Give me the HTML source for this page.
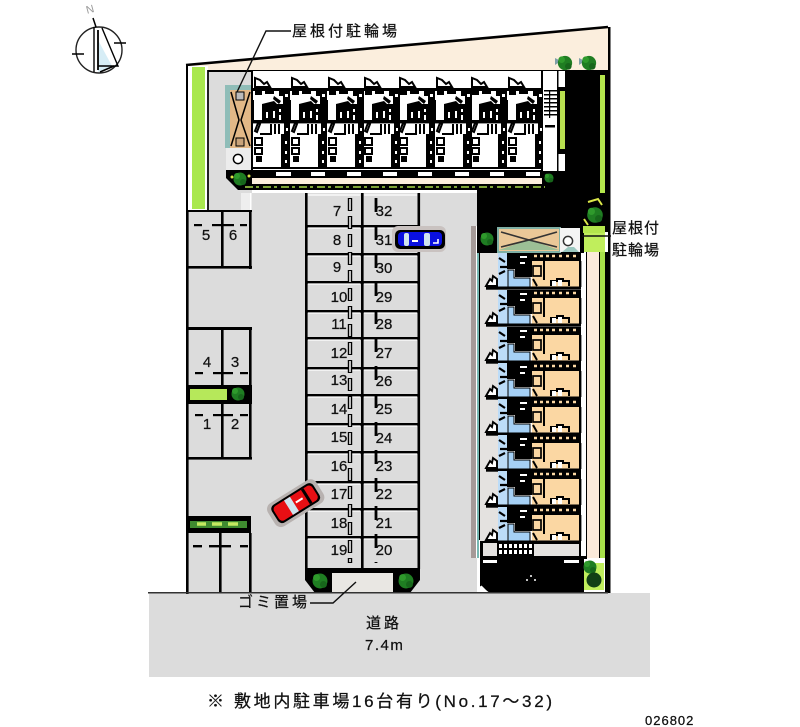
<!DOCTYPE html>
<html lang="ja">
<head>
<meta charset="utf-8">
<title>配置図</title>
<style>
html,body{margin:0;padding:0;background:#fff}
svg{display:block;filter:blur(.35px)}
text{font-family:"Liberation Sans","WenQuanYi Zen Hei","Noto Sans CJK JP",sans-serif;fill:#111;stroke:#111;stroke-width:.25px}
.n{font-size:15px;text-anchor:middle;font-family:"Liberation Sans",sans-serif}
.j{font-size:15px;letter-spacing:3px}
</style>
</head>
<body>
<svg width="800" height="727" viewBox="0 0 800 727" xmlns="http://www.w3.org/2000/svg">
<defs>
  <g id="tree"><circle cx="0" cy="0" r="6.5" fill="#1f7d22"/><circle cx="-3" cy="-3" r="3" fill="#2f9a2c"/><circle cx="3" cy="3" r="3" fill="#17661b"/></g>

  <g id="ut">
    <path d="M255 87V78l5 2 4 4 3-2 3 5z" fill="#fff" stroke="#000" stroke-width="2"/>
    <rect x="253" y="88" width="37" height="3" fill="#000"/>
    <path d="M255 91h7v4h-7zM265 91h9v3h-9zM279 91h10v5h-10z" fill="#000"/>
    <path d="M274 96l7 5-2 3-6-5zM262 104l12-3 3 3h13v18h-28z" fill="#000"/>
    <rect x="283" y="89" width="7" height="20" fill="#000"/>
    <rect x="285" y="94" width="3" height="3" fill="#fff"/>
    <rect x="266" y="112" width="2" height="6" fill="#fff"/><rect x="273" y="111" width="2" height="7" fill="#fff"/>
    <rect x="279" y="109" width="2" height="3" fill="#fff"/><rect x="279" y="115" width="2" height="5" fill="#fff"/>
    <rect x="252" y="100" width="2" height="22" fill="#000"/>
    <rect x="253" y="120" width="37" height="3.4" fill="#000"/>
    <path d="M255 131l3-8 2 1-3 8zM271 124v10h-11M275 124v10M279 124v10" fill="none" stroke="#000" stroke-width="2"/>
    <rect x="255" y="138" width="7" height="7" fill="#fff" stroke="#000" stroke-width="2"/>
    <rect x="255" y="148" width="7" height="6" fill="#fff" stroke="#000" stroke-width="2"/>
    <rect x="256" y="156" width="6" height="6" fill="#000"/>
    <rect x="281" y="134" width="9" height="34" fill="#000"/>
    <rect x="284" y="123" width="6" height="14" fill="#000"/>
    <rect x="286" y="128" width="2" height="3" fill="#fff"/><rect x="285" y="141" width="2" height="3" fill="#fff"/><rect x="285" y="151" width="2" height="3" fill="#fff"/><rect x="285" y="160" width="2" height="3" fill="#fff"/>
    <rect x="253" y="167" width="37" height="2" fill="#000"/>
  </g>

  <g id="ur">
    <rect x="498" y="0" width="10" height="35" fill="#bcdcf8"/>
    <path d="M508 17h6v8h16v9h-22z" fill="#a5d0f5" stroke="#000" stroke-width="1"/>
    <path d="M507 0h25v24h-17v-8h-8z" fill="#000"/>
    <rect x="520" y="3" width="7" height="2" fill="#fff"/><rect x="520" y="9" width="5" height="2" fill="#fff"/>
    <path d="M499 5l6 4M500 14h7M499 21l6-3" stroke="#000" stroke-width="2.2"/>
    <path d="M486 33l4-7 2 2 1-5 4 3v7z" fill="#fff" stroke="#000" stroke-width="1.9"/>
    <path d="M494 33h4" stroke="#000" stroke-width="1.6"/>
    <rect x="532" y="0" width="48" height="35" fill="#fbd7a3"/>
    <rect x="531" y="0" width="50" height="8" fill="#000"/>
    <path d="M534 3h3M540 3h3M546 3h3M552 3h3M559 3h3M566 3h3M573 3h3" stroke="#fbd7a3" stroke-width="2.6"/>
    <rect x="533" y="13" width="8" height="10" fill="#fbd7a3" stroke="#000" stroke-width="1.7"/>
    <rect x="543" y="8" width="2" height="19" fill="#000"/>
    <rect x="579" y="8" width="2.4" height="26" fill="#000"/>
    <path d="M533 26l4 7M551 33v-5h6v-2h6v2h6v5" fill="none" stroke="#000" stroke-width="2"/>
    <rect x="552" y="28" width="4" height="5" fill="#fff"/><rect x="558" y="27" width="4" height="6" fill="#fff"/>
    <rect x="486" y="33.5" width="95" height="3.2" fill="#000"/>
    <rect x="582" y="0" width="4" height="10" fill="#fff"/><rect x="582" y="14" width="4" height="22" fill="#fff"/>
  </g>
</defs>

<rect width="800" height="727" fill="#fff"/>

<!-- compass -->
<text x="86" y="13" font-size="11" style="fill:#999;stroke:none" transform="rotate(-15 90 9)">N</text>
<circle cx="99" cy="50" r="23" fill="#fff" stroke="#222" stroke-width="1.4"/>
<path d="M98 72V40L112 66z" fill="#d6edf6"/>
<path d="M94 27V72M102 28l16 38H98" fill="none" stroke="#000" stroke-width="1.4"/>
<path d="M98 30V70" stroke="#000" stroke-width="1.8"/>
<path d="M93 18l3 9M72 54h12M114 43h12M100 72l14-6" stroke="#000" stroke-width="1.5" fill="none"/>

<!-- site beige -->
<path d="M188 65L608 28V71H188z" fill="#fbeedd"/>
<path d="M186 65L608 27" stroke="#000" stroke-width="2.6" fill="none"/>
<rect x="608" y="27" width="2.5" height="567" fill="#000"/>
<rect x="606" y="500" width="1.5" height="90" fill="#a096b8"/>

<!-- road -->
<rect x="149" y="593" width="501" height="84" fill="#dcdcdc"/>

<!-- ground grey -->
<rect x="188" y="193" width="289" height="400" fill="#dcdcdc"/>
<rect x="209" y="70" width="43" height="141" fill="#dcdcdc"/>
<rect x="241" y="193" width="9" height="18" fill="#eee"/>
<rect x="250" y="193" width="1.5" height="18" fill="#fff"/>
<rect x="186" y="64" width="2.6" height="530" fill="#000"/>

<!-- left green -->
<rect x="188" y="66" width="20" height="144" fill="#fff"/>
<rect x="192" y="67" width="13" height="142" fill="#a9e84e"/>
<rect x="207" y="70" width="2" height="141" fill="#222"/>
<rect x="208" y="70" width="400" height="2" fill="#000"/>

<!-- bike roof top-left -->
<rect x="225" y="85" width="26" height="63" fill="#8fbdb8"/>
<rect x="230" y="90" width="21" height="58" fill="#e2b887"/>
<path d="M231 92l8 28 -8 26M250 92l-9 28 9 26" fill="none" stroke="#000" stroke-width="1.5"/>
<rect x="236" y="92" width="8" height="8" fill="#bbb" stroke="#000"/>
<rect x="236" y="138" width="8" height="8" fill="#c9a37a" stroke="#000"/>
<rect x="226" y="148" width="26" height="22" fill="#ececec"/>
<circle cx="238" cy="159" r="4.6" fill="#fff" stroke="#000" stroke-width="1.5"/>

<!-- top building -->
<rect x="252" y="71" width="290" height="101" fill="#fff"/>
<rect x="251" y="71" width="2" height="100" fill="#000"/>
<rect x="541" y="71" width="2" height="100" fill="#000"/>
<use href="#ut"/><use href="#ut" x="37"/><use href="#ut" x="74"/><use href="#ut" x="110"/><use href="#ut" x="145"/><use href="#ut" x="182"/><use href="#ut" x="217"/><use href="#ut" x="254"/>
<rect x="543" y="71" width="15" height="100" fill="#fff"/>
<rect x="558" y="71" width="7" height="100" fill="#fff"/>
<rect x="557" y="71" width="1.5" height="100" fill="#000"/>
<rect x="558" y="87" width="7" height="67" fill="#000"/>
<rect x="560" y="91" width="7" height="58" fill="#b8e050"/>
<g fill="#000"><rect x="544" y="90" width="14" height="1.5"/><rect x="544" y="94" width="14" height="1.5"/><rect x="544" y="98" width="14" height="1.5"/><rect x="544" y="102" width="14" height="1.5"/><rect x="544" y="106" width="14" height="1.5"/><rect x="544" y="110" width="14" height="1.5"/><rect x="544" y="114" width="14" height="1.5"/><rect x="549" y="90" width="1.2" height="28"/><rect x="545" y="125" width="10" height="2.5"/></g>

<!-- black area -->
<path d="M226 170H543V171H565V71H598V226H584V253H477V190H238L226 178z" fill="#000"/>
<rect x="252" y="178" width="290" height="6" fill="#fdeedd"/>
<g fill="#fff"><rect x="276" y="172" width="15" height="4"/><rect x="311" y="172" width="14" height="4"/><rect x="347" y="172" width="14" height="4"/><rect x="383" y="172" width="14" height="4"/><rect x="418" y="172" width="14" height="4"/><rect x="455" y="172" width="14" height="4"/><rect x="490" y="172" width="14" height="4"/><rect x="526" y="172" width="14" height="4"/></g>
<path d="M245 187H545" stroke="#a9d94a" stroke-width="1.6" stroke-dasharray="8 3 3 4"/>
<use href="#tree" x="240" y="179"/>
<use href="#tree" transform="translate(549 178) scale(.7)"/>
<circle cx="232" cy="177" r="1.5" fill="#dce84a"/><circle cx="249" cy="176" r="1.5" fill="#dce84a"/>

<!-- right side strips -->
<rect x="598" y="71" width="10" height="161" fill="#000"/>
<rect x="600" y="75" width="5" height="118" fill="#b4e64c"/>
<path d="M555 58l6 3-6 4zM579 58l6 3-6 4z" fill="#7f9fa8"/>
<use href="#tree" transform="translate(565 63) scale(1.1)"/><use href="#tree" transform="translate(589 63) scale(1.1)"/>
<use href="#tree" transform="translate(595 215) scale(1.2)"/>
<path d="M588 202l10-3 4 6M588 225l-4-6" fill="none" stroke="#dce84a" stroke-width="2"/>

<!-- right bike -->
<rect x="498" y="228" width="62" height="24" fill="#eac898" stroke="#7fb0a5" stroke-width="2"/>
<path d="M499 250l20-7 10-3 10 3 20 7z" fill="#9cbf96"/>
<path d="M501 232l28 8 28-8M501 247l28-7 28 7" fill="none" stroke="#333" stroke-width="1.6"/>
<rect x="560" y="228" width="20" height="24" fill="#f4f4f4"/>
<path d="M562 252l6-5 6 0 5 5z" fill="#9cc8c0"/>
<circle cx="568" cy="241" r="4.6" fill="#fff" stroke="#333" stroke-width="1.5"/>
<use href="#tree" x="487" y="239"/>
<rect x="584" y="232" width="21" height="20" fill="#c0ee5c"/>
<rect x="583" y="226" width="22" height="7" fill="#b4e64c"/>

<!-- right building -->
<rect x="471" y="226" width="5" height="332" fill="#a59a98"/>
<rect x="476" y="226" width="1" height="332" fill="#fff"/>
<rect x="477" y="253" width="2" height="305" fill="#78b8b2"/>
<rect x="479" y="253" width="1.4" height="287" fill="#000"/>
<rect x="480" y="253" width="18" height="288" fill="#e4e2e0"/>
<rect x="498" y="253" width="83" height="288" fill="#fff"/>
<use href="#ur" y="253"/><use href="#ur" y="290"/><use href="#ur" y="327"/><use href="#ur" y="363"/><use href="#ur" y="399"/><use href="#ur" y="435"/><use href="#ur" y="471"/><use href="#ur" y="507"/>

<rect x="586" y="252" width="1.6" height="306" fill="#000"/>
<rect x="587" y="252" width="12" height="306" fill="#fbeadb"/>
<rect x="599" y="252" width="1.5" height="306" fill="#000"/>
<rect x="600" y="252" width="5" height="306" fill="#a8e04a"/>
<rect x="605" y="252" width="3" height="340" fill="#000"/>

<!-- right bottom -->
<path d="M480 541H581V556H587V559H584V593H490L480 586z" fill="#000"/>
<rect x="483" y="543" width="14" height="13" fill="#e4e2e0"/>
<rect x="534" y="544" width="45" height="12" fill="#e4e2e0"/>
<g fill="#fff"><rect x="499" y="544" width="3" height="4"/><rect x="504" y="544" width="3" height="4"/><rect x="509" y="544" width="3" height="4"/><rect x="514" y="544" width="3" height="4"/><rect x="519" y="544" width="3" height="4"/><rect x="524" y="544" width="3" height="4"/><rect x="529" y="544" width="3" height="4"/><rect x="499" y="550" width="3" height="4"/><rect x="504" y="550" width="3" height="4"/><rect x="509" y="550" width="3" height="4"/><rect x="514" y="550" width="3" height="4"/><rect x="519" y="550" width="3" height="4"/><rect x="524" y="550" width="3" height="4"/><rect x="529" y="550" width="3" height="4"/><rect x="483" y="560" width="14" height="3"/><rect x="564" y="560" width="15" height="3"/><circle cx="531" cy="576" r="1"/><circle cx="527" cy="580" r="1"/><circle cx="535" cy="580" r="1"/></g>
<rect x="584" y="563" width="20" height="27" fill="#c0ee5c"/>
<use href="#tree" x="590" y="567"/>
<circle cx="594" cy="580" r="7.5" fill="#123f16"/>
<path d="M481 586l7 7" stroke="#fff" stroke-width="1.5"/>

<!-- main parking -->
<rect x="306" y="193" width="113" height="376" fill="#dcdcdc"/>
<g fill="#000">
  <rect x="305" y="193" width="2.6" height="376"/><rect x="417.5" y="193" width="2.6" height="376"/><rect x="361" y="193" width="2.6" height="376"/>
  <rect x="305" y="225" width="115" height="2.6"/><rect x="305" y="253" width="115" height="2.6"/><rect x="305" y="281" width="115" height="2.6"/><rect x="305" y="310" width="115" height="2.6"/><rect x="305" y="337" width="115" height="2.6"/><rect x="305" y="367" width="115" height="2.6"/><rect x="305" y="394" width="115" height="2.6"/><rect x="305" y="423" width="115" height="2.6"/><rect x="305" y="451" width="115" height="2.6"/><rect x="305" y="481" width="115" height="2.6"/><rect x="305" y="508" width="115" height="2.6"/><rect x="305" y="536" width="115" height="2.6"/>
</g>
<path d="M308 195H360M364 195H417M308 228H360M364 228H417M308 256H360M364 256H417M308 284H360M364 284H417M308 313H360M364 313H417M308 340H360M364 340H417M308 370H360M364 370H417M308 397H360M364 397H417M308 426H360M364 426H417M308 454H360M364 454H417M308 484H360M364 484H417M308 511H360M364 511H417M308 539H360M364 539H417" stroke="#fff" stroke-width="1.2"/>
<path d="M350 198V563" stroke="#000" stroke-width="4.4" stroke-dasharray="13 5"/>
<path d="M350 199V562" stroke="#fff" stroke-width="1.5" stroke-dasharray="11 7"/>
<path d="M376 198V563" stroke="#000" stroke-width="2.8" stroke-dasharray="14 14"/>

<path d="M305 568H420V580L410 593H315L305 580z" fill="#000"/>
<rect x="332" y="573" width="61" height="20" fill="#e9e7e3"/>
<use href="#tree" transform="translate(320 581) scale(1.15)"/><use href="#tree" transform="translate(406 581) scale(1.15)"/>

<!-- numbers -->
<g>
<text class="n" x="337" y="216">7</text><text class="n" x="337" y="245">8</text><text class="n" x="337" y="272">9</text><text class="n" x="339" y="302">10</text><text class="n" x="339" y="329">11</text><text class="n" x="339" y="358">12</text><text class="n" x="339" y="385">13</text><text class="n" x="339" y="414">14</text><text class="n" x="339" y="442">15</text><text class="n" x="339" y="471">16</text><text class="n" x="339" y="499">17</text><text class="n" x="339" y="528">18</text><text class="n" x="339" y="555">19</text>
<text class="n" x="384" y="216">32</text><text class="n" x="384" y="245">31</text><text class="n" x="384" y="273">30</text><text class="n" x="384" y="302">29</text><text class="n" x="384" y="329">28</text><text class="n" x="384" y="358">27</text><text class="n" x="384" y="386">26</text><text class="n" x="384" y="414">25</text><text class="n" x="384" y="443">24</text><text class="n" x="384" y="471">23</text><text class="n" x="384" y="499">22</text><text class="n" x="384" y="528">21</text><text class="n" x="384" y="555">20</text>
</g>

<!-- left slots -->
<g fill="#000">
  <rect x="188" y="210" width="64" height="2"/><rect x="221" y="212" width="2.6" height="56"/><rect x="249" y="210" width="2.6" height="59"/><rect x="188" y="266" width="64" height="2.6"/>
  <rect x="186" y="327" width="66" height="3"/><rect x="221" y="330" width="2.6" height="58"/><rect x="249" y="328" width="2.6" height="60"/>
  <rect x="186" y="385" width="66" height="19"/>
  <rect x="221" y="404" width="2.6" height="54"/><rect x="249" y="404" width="2.6" height="55"/><rect x="186" y="457" width="66" height="2.6"/>
  <rect x="186" y="516" width="65" height="17"/>
  <rect x="219" y="533" width="2.6" height="60"/><rect x="249" y="533" width="2.6" height="60"/>
  <rect x="194" y="224" width="8" height="2.2"/><rect x="212" y="224" width="22" height="2.2"/><rect x="240" y="224" width="7" height="2.2"/>
  <rect x="195" y="372" width="8" height="2.2"/><rect x="213" y="372" width="20" height="2.2"/><rect x="240" y="372" width="8" height="2.2"/>
  <rect x="195" y="414" width="8" height="2.2"/><rect x="213" y="414" width="20" height="2.2"/><rect x="240" y="414" width="8" height="2.2"/>
  <rect x="193" y="545" width="9" height="2.4"/><rect x="209" y="545" width="22" height="2.4"/><rect x="240" y="545" width="8" height="2.4"/>
</g>
<rect x="190" y="389" width="37" height="11" fill="#b6e85a"/>
<use href="#tree" x="238" y="394"/>
<rect x="190" y="521" width="57" height="7" fill="#3f8a30"/>
<path d="M197 524h9M212 524h10M228 524h10" stroke="#c4ea60" stroke-width="3.6"/>
<text class="n" x="206" y="240">5</text><text class="n" x="233" y="240">6</text><text class="n" x="207" y="367">4</text><text class="n" x="235" y="367">3</text><text class="n" x="207" y="429">1</text><text class="n" x="235" y="429">2</text>

<!-- road edge -->
<rect x="148" y="592" width="460" height="1.5" fill="#333"/>

<!-- blue car -->
<rect x="392" y="226" width="54" height="26" rx="6" fill="#c9c2c0"/>
<rect x="395" y="230" width="50" height="19" rx="5" fill="#000"/>
<rect x="398" y="232" width="44" height="14" rx="4" fill="#0a10e0"/>
<rect x="404" y="233" width="5" height="13" rx="2" fill="#cfe4ee"/><rect x="424" y="233" width="6" height="13" rx="2" fill="#cfe4ee"/>
<rect x="412" y="240" width="6" height="2" fill="#fff"/><path d="M433 243h5v-4" stroke="#fff" stroke-width="1.6" fill="none"/>

<!-- red car -->
<g transform="rotate(-32 295 503)">
  <rect x="267" y="490" width="57" height="27" rx="7" fill="#b8b2b0"/>
  <rect x="271" y="493" width="49" height="21" rx="5" fill="#000"/>
  <rect x="273" y="495" width="45" height="17" rx="4" fill="#e80f14"/>
  <rect x="287" y="495" width="7" height="17" fill="#cfe4ee"/><rect x="307" y="495" width="3" height="17" fill="#000"/>
  <rect x="296" y="502" width="8" height="2" fill="#fff"/>
</g>

<!-- labels -->
<path d="M291 31H266L237 92" fill="none" stroke="#111" stroke-width="1.4"/>
<text class="j" x="292" y="36">屋根付駐輪場</text>
<path d="M582 236H611" stroke="#111" stroke-width="1.4"/>
<text class="j" x="612" y="233" style="letter-spacing:1px">屋根付</text>
<text class="j" x="612" y="255" style="letter-spacing:1px">駐輪場</text>
<path d="M310 603H333L356 582" fill="none" stroke="#111" stroke-width="1.4"/>
<text class="j" x="238" y="607">ゴミ置場</text>
<text x="366" y="628" font-size="15" style="letter-spacing:3px">道路</text>
<text x="365" y="650" font-size="15" style="letter-spacing:1.5px">7.4m</text>
<text x="207" y="707" font-size="17">※</text>
<text x="234" y="707" font-size="17" textLength="318" lengthAdjust="spacing">敷地内駐車場16台有り(No.17～32)</text>
<text x="645" y="725" font-size="13" style="letter-spacing:1px">026802</text>
</svg>
</body>
</html>
